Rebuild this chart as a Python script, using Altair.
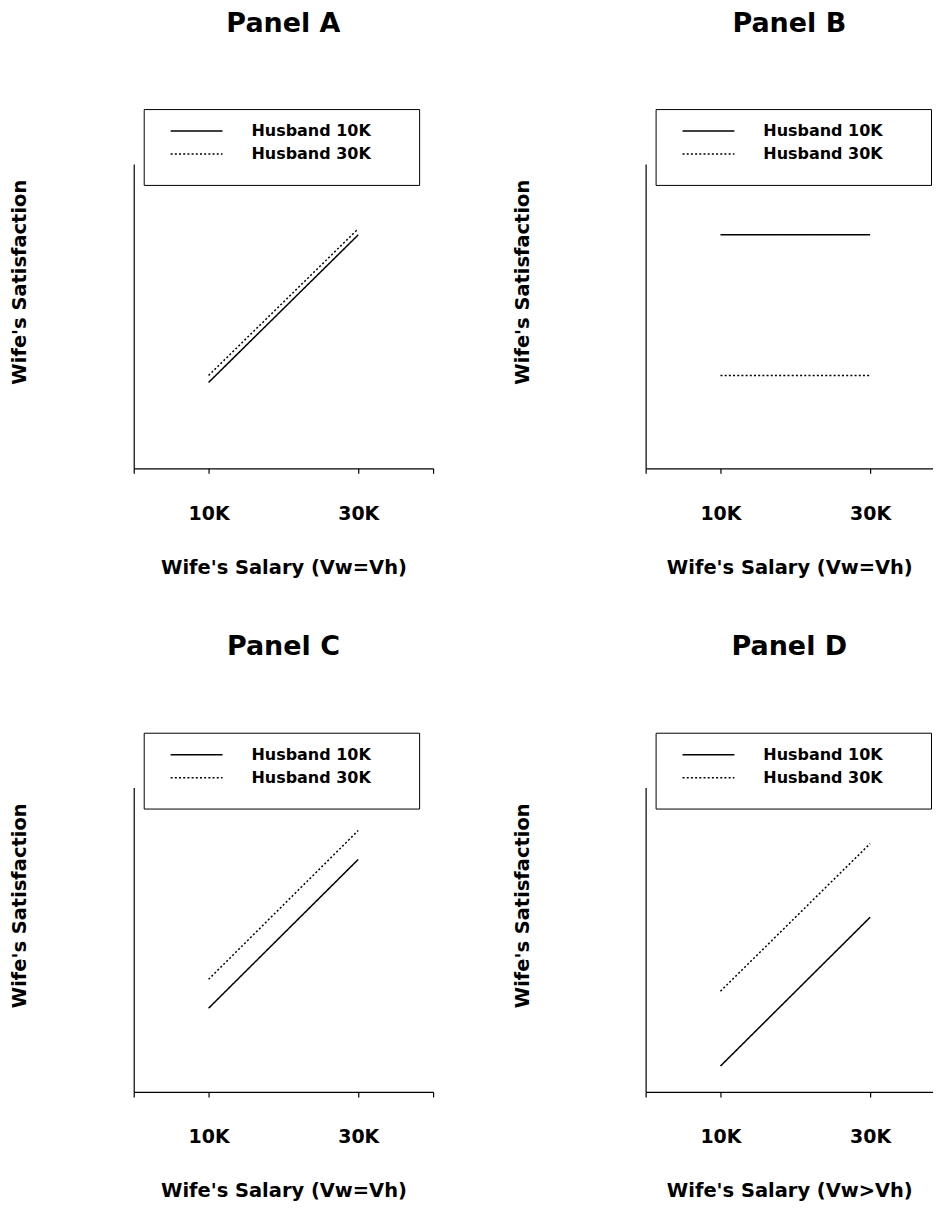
import altair as alt
import pandas as pd

# ---- data ----
salary = [10, 30]                      # wife's salary (K)
series_names = ["Husband 10K", "Husband 30K"]
panel_names = ["Panel A", "Panel B", "Panel C", "Panel D"]
x_titles = ["Wife's Salary (Vw=Vh)", "Wife's Salary (Vw=Vh)",
            "Wife's Salary (Vw=Vh)", "Wife's Salary (Vw>Vh)"]
y_title = "Wife's Satisfaction"
tick_labels = {10: "10K", 30: "30K"}

# wife's satisfaction (arbitrary 0-100 units) at wife's salary 10K, 30K
a_h10 = [28.2, 76.7]
a_h30 = [30.5, 78.7]
b_h10 = [76.7, 76.7]
b_h30 = [30.5, 30.5]
c_h10 = [27.5, 76.4]
c_h30 = [37.0, 85.9]
d_h10 = [8.5, 57.4]
d_h30 = [33.1, 81.6]

FONT = "DejaVu Sans"


def panel(title, xtitle, h10, h30, width, xmax, xvals, ypad):
    df = pd.DataFrame({
        "salary": salary * 2,
        "sat": h10 + h30,
        "series": [series_names[0]] * 2 + [series_names[1]] * 2,
    })
    label_expr = ("datum.value == 10 ? '%s' : datum.value == 30 ? '%s' : ''"
                  % (tick_labels[10], tick_labels[30]))
    return alt.Chart(df).mark_line(color="black", strokeWidth=1.5).encode(
        x=alt.X("salary:Q",
                scale=alt.Scale(domain=[0, xmax], nice=False, zero=False),
                axis=alt.Axis(values=xvals, labelExpr=label_expr, title=xtitle,
                              grid=False, tickSize=5, labelPadding=31,
                              titlePadding=35)),
        y=alt.Y("sat:Q", scale=alt.Scale(domain=[0, 100], nice=False),
                axis=alt.Axis(title=y_title, labels=False, ticks=False,
                              grid=False, titlePadding=ypad, titleY=118)),
        strokeDash=alt.StrokeDash(
            "series:N",
            scale=alt.Scale(domain=series_names, range=[[1, 0], [2, 2.2]]),
            legend=alt.Legend(
                title=" ", titleOrient="right", titleFont=FONT,
                titleFontSize=48, titleBaseline="top", titleAnchor="start",
                titlePadding=34,
                orient="none", legendX=10, legendY=-55,
                symbolType="stroke", symbolSize=2704, symbolStrokeWidth=1.5,
                symbolStrokeColor="black", clipHeight=16, rowPadding=7,
                padding=14, symbolOffset=12, labelOffset=28,
                labelFont=FONT, labelFontSize=16, labelFontWeight="bold",
                labelColor="black", strokeColor="black", fillColor="white")),
    ).properties(
        width=width, height=305,
        title=alt.Title(title, font=FONT, fontSize=27, fontWeight="bold",
                        color="black", frame="group", anchor="middle",
                        baseline="alphabetic", offset=50),
    )


pa = panel(panel_names[0], x_titles[0], a_h10, a_h30, 300, 40, [0, 10, 30, 40], 104)
pb = panel(panel_names[1], x_titles[1], b_h10, b_h30, 288, 38.4, [0, 10, 30], 113)
pc = panel(panel_names[2], x_titles[2], c_h10, c_h30, 300, 40, [0, 10, 30, 40], 104)
pd_ = panel(panel_names[3], x_titles[3], d_h10, d_h30, 288, 38.4, [0, 10, 30], 113)

chart = alt.vconcat(
    alt.hconcat(pa, pb, spacing=79).resolve_legend(strokeDash="independent"),
    alt.hconcat(pc, pd_, spacing=79).resolve_legend(strokeDash="independent"),
    spacing=56,
).resolve_legend(strokeDash="independent").properties(
    padding={"left": 2, "top": 0, "right": 0, "bottom": 0},
    background="white",
).configure_view(stroke=None).configure_axis(
    domainColor="black", domainWidth=1.2, tickColor="black", tickWidth=1.2,
    labelColor="black", titleColor="black",
    labelFont=FONT, titleFont=FONT, labelFontSize=19, titleFontSize=19.5,
    labelFontWeight="bold", titleFontWeight="bold",
)

chart.save("out.html", embed_options={"renderer": "svg", "actions": False})
